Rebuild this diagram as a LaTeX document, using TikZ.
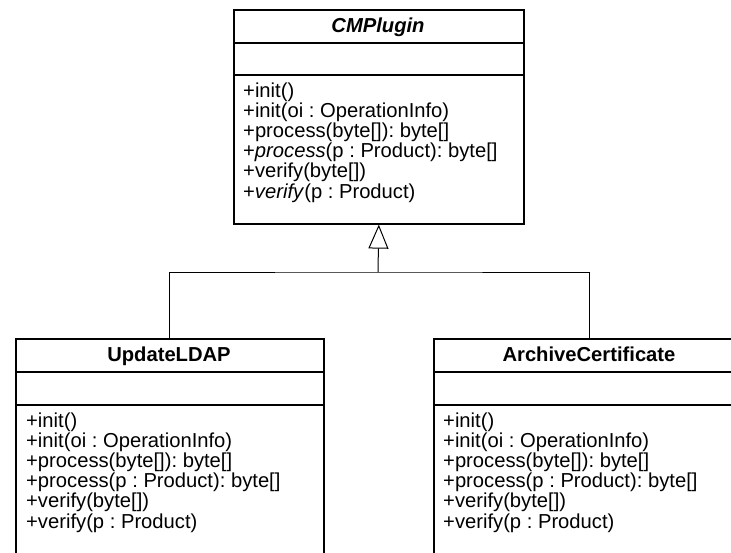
\documentclass[tikz,border=0pt]{standalone}
\usepackage{fontspec}
\setmainfont{Liberation Sans}
\usetikzlibrary{arrows.meta}
\frenchspacing
\begin{document}
\begin{tikzpicture}[x=1pt,y=-1pt,
  font=\fontsize{20.2}{20.2}\selectfont,
  classbox/.style={draw, line width=1.6pt, inner sep=0pt, anchor=north west},
  compsep/.style={line width=1.6pt},
  link/.style={line width=1pt},
  classname/.style={anchor=base, inner sep=0pt},
  member/.style={anchor=base west, inner sep=0pt},
  inherit/.style={line width=1pt, -{Triangle[open, length=24pt, width=20pt]}}]
\useasboundingbox (0,0) rectangle (731,552);
\clip (0,0) rectangle (731,552);

% abstract base class
\node[classbox, minimum width=290pt, minimum height=214pt] (cmp) at (233,9) {};
\draw[compsep] ([yshift=-34pt]cmp.north west) -- ([yshift=-34pt]cmp.north east);
\draw[compsep] ([yshift=-66pt]cmp.north west) -- ([yshift=-66pt]cmp.north east);
\node[classname] (cmpname) at (378,32) {\textbf{\textit{CMPlugin}}};
\foreach \m [count=\i] in {+init(), +init(oi : OperationInfo),
    +process(byte[]): byte[], +\textit{process}(p : Product): byte[],
    +verify(byte[]), +\textit{verify}(p : Product)}
  \node[member] (cmp-\i) at (243,{97+20.2*(\i-1)}) {\m};

% subclasses
\node[classbox, minimum width=308pt, minimum height=300pt] (ldap) at (15,338) {};
\draw[compsep] ([yshift=-34pt]ldap.north west) -- ([yshift=-34pt]ldap.north east);
\draw[compsep] ([yshift=-67pt]ldap.north west) -- ([yshift=-67pt]ldap.north east);
\node[classname] (ldapname) at (169,361) {\textbf{UpdateLDAP}};

\node[classbox, minimum width=312pt, minimum height=300pt] (arch) at (433,338) {};
\draw[compsep] ([yshift=-34pt]arch.north west) -- ([yshift=-34pt]arch.north east);
\draw[compsep] ([yshift=-67pt]arch.north west) -- ([yshift=-67pt]arch.north east);
\node[classname] (archname) at (589,361) {\textbf{ArchiveCertificate}};

\foreach \m [count=\i] in {+init(), +init(oi : OperationInfo),
    +process(byte[]): byte[], +process(p : Product): byte[],
    +verify(byte[]), +verify(p : Product)} {
  \node[member] (ldap-\i) at (26,{427+20.2*(\i-1)}) {\m};
  \node[member] (arch-\i) at (443,{427+20.2*(\i-1)}) {\m};
}

% generalization
\coordinate (bar) at (378,272);
\draw[link] (ldap.north) |- (bar) -| (arch.north);
\draw[inherit] (bar) -- (cmp.south);
\end{tikzpicture}
\end{document}
